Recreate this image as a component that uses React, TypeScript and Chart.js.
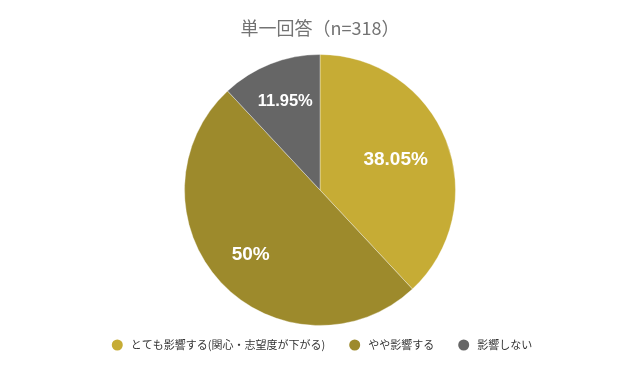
import React, { useEffect, useRef } from "react";
import { Chart, registerables } from "chart.js";
Chart.register(...registerables);

const categories = ["とても影響する(関心・志望度が下がる)", "やや影響する", "影響しない"];
const values = [38.05, 50, 11.95];
const valueLabels = ["38.05%", "50%", "11.95%"];
const colors = ["#C6AC35", "#9D8A2C", "#666666"];
const titleText = "単一回答（n=318）";

const labelRadius = [0.6, 0.7, 0.7];
const labelSize = [19, 19, 16.5];

const labelPlugin = {
  id: "sliceLabels",
  afterDatasetsDraw(chart: any) {
    const ctx = chart.ctx;
    const meta = chart.getDatasetMeta(0);
    meta.data.forEach((arc: any, i: number) => {
      const { x, y, startAngle, endAngle, outerRadius } = arc.getProps(
        ["x", "y", "startAngle", "endAngle", "outerRadius"],
        true
      );
      const mid = (startAngle + endAngle) / 2;
      const r = outerRadius * labelRadius[i];
      const px = x + Math.cos(mid) * r;
      const py = y + Math.sin(mid) * r;
      ctx.save();
      ctx.fillStyle = "#ffffff";
      ctx.font = `bold ${labelSize[i]}px "Liberation Sans", Arial, sans-serif`;
      ctx.textAlign = "center";
      ctx.textBaseline = "middle";
      ctx.fillText(valueLabels[i], px, py);
      ctx.restore();
    });
  },
};

const legendPlugin = {
  id: "customLegend",
  afterDraw(chart: any) {
    const ctx = chart.ctx;
    const fontSize = 11;
    const radius = 5.5;
    const textGap = 8;
    const itemGap = 24;
    const y = 345;
    ctx.save();
    ctx.font = `${fontSize}px "Noto Sans CJK JP", sans-serif`;
    const widths = categories.map((c) => radius * 2 + textGap + ctx.measureText(c).width);
    const total = widths.reduce((a, b) => a + b, 0) + itemGap * (categories.length - 1);
    let x = chart.width / 2 - total / 2 + 2;
    categories.forEach((c, i) => {
      ctx.beginPath();
      ctx.fillStyle = colors[i];
      ctx.arc(x + radius, y, radius, 0, Math.PI * 2);
      ctx.fill();
      ctx.fillStyle = "#333333";
      ctx.textAlign = "left";
      ctx.textBaseline = "middle";
      ctx.fillText(c, x + radius * 2 + textGap, y);
      x += widths[i] + itemGap;
    });
    ctx.restore();
  },
};

export default function App() {
  const ref = useRef<HTMLCanvasElement>(null);
  useEffect(() => {
    if (!ref.current) return;
    const chart = new Chart(ref.current, {
      type: "pie",
      data: {
        labels: categories,
        datasets: [
          {
            data: values,
            backgroundColor: colors,
            borderColor: "rgba(255,255,255,0.35)",
            borderWidth: 1,
          },
        ],
      },
      options: {
        animation: false,
        responsive: false,
        maintainAspectRatio: false,
        layout: { padding: { top: 0, bottom: 45 } },
        plugins: {
          title: {
            display: true,
            text: titleText,
            color: "#737373",
            font: { size: 18, family: '"Noto Sans CJK JP", sans-serif', weight: "normal" },
            padding: { top: 17, bottom: 15.4 },
          },
          legend: { display: false },
          tooltip: { enabled: false },
        },
      },
      plugins: [labelPlugin, legendPlugin],
    });
    return () => chart.destroy();
  }, []);
  return (
    <div style={{ position: "fixed", left: 0, top: 0, width: 640, height: 371, background: "#fff" }}>
      <canvas ref={ref} width={640} height={371} style={{ width: 640, height: 371 }} />
    </div>
  );
}
